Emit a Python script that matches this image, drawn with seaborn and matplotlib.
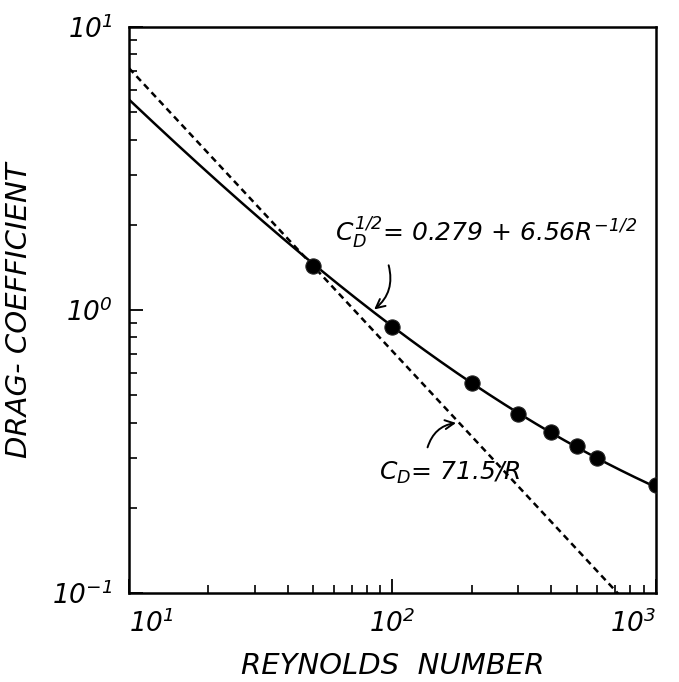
import numpy as np
import pandas as pd
import matplotlib
matplotlib.use("Agg")
import matplotlib.pyplot as plt
import seaborn as sns

# ---- data ----
reynolds_points = [50, 100, 200, 300, 400, 500, 600, 1000]
cd_points = [1.43, 0.87, 0.55, 0.43, 0.37, 0.33, 0.30, 0.24]

# fitted curve coefficients (as printed on the chart)
fit_a = 0.279
fit_b = 6.56
stokes_k = 71.5

x_ticks = [10, 100, 1000]
x_ticklabels = [r"$10^1$", r"$10^2$", r"$10^3$"]
y_ticks = [0.1, 1, 10]
y_ticklabels = [r"$10^{-1}$", r"$10^0$", r"$10^1$"]

sns.set_theme(style="white")
plt.rcParams["font.family"] = ["DejaVu Sans"]
plt.rcParams["font.style"] = "italic"
plt.rcParams["mathtext.fontset"] = "custom"
plt.rcParams["mathtext.rm"] = "DejaVu Sans:italic"
plt.rcParams["mathtext.it"] = "DejaVu Sans:italic"
plt.rcParams["mathtext.bf"] = "DejaVu Sans:italic"

fig = plt.figure(figsize=(6.79, 6.82), dpi=100)
ax = fig.add_axes([0.190, 0.1305, 0.776, 0.830])

r_grid = np.logspace(1, 3, 300)
fit_df = pd.DataFrame({"R": r_grid, "CD": (fit_a + fit_b / np.sqrt(r_grid)) ** 2})
stokes_df = pd.DataFrame({"R": r_grid, "CD": stokes_k / r_grid})
pts_df = pd.DataFrame({"R": reynolds_points, "CD": cd_points})

sns.lineplot(data=fit_df, x="R", y="CD", ax=ax, color="black", lw=1.8)
sns.lineplot(data=stokes_df, x="R", y="CD", ax=ax, color="black", lw=1.8,
             dashes=False)
ax.lines[-1].set_dashes((2.6, 1.8))
sns.scatterplot(data=pts_df, x="R", y="CD", ax=ax, color="black", s=120,
                edgecolor="#222222", linewidth=0.8, zorder=5)

ax.set_xscale("log")
ax.set_yscale("log")
ax.set_xlim(10, 1000)
ax.set_ylim(0.1, 10)

ax.set_xticks(x_ticks)
ax.set_xticklabels(x_ticklabels, fontsize=19)
ax.set_yticks(y_ticks)
ax.set_yticklabels(y_ticklabels, fontsize=19)
xl = ax.get_xticklabels()
xl[0].set_horizontalalignment("left")
xl[-1].set_horizontalalignment("right")

ax.tick_params(axis="both", which="major", direction="in", length=10, width=1.3,
               pad=12, top=False, right=False, bottom=True, left=True, colors="black")
ax.tick_params(axis="both", which="minor", direction="in", length=6, width=1.2,
               top=False, right=False, bottom=True, left=True, colors="black")
for s in ax.spines.values():
    s.set_linewidth(1.8)
    s.set_color("black")

ax.set_xlabel("REYNOLDS  NUMBER", fontsize=21, labelpad=10, color="black")
ax.set_ylabel("DRAG- COEFFICIENT", fontsize=21, labelpad=14, color="black")

ax.text(60.5, 1.74, r"$C_D^{1/2}$= 0.279 + 6.56$R^{-1/2}$", fontsize=18,
        ha="left", va="baseline", color="black")
ax.annotate("", xy=(83.6, 0.99), xytext=(96.1, 1.47),
            arrowprops=dict(arrowstyle="->", color="black", lw=1.4,
                            connectionstyle="arc3,rad=-0.35", mutation_scale=16))
ax.text(89, 0.251, r"$C_D$= 71.5/R", fontsize=18, ha="left", va="baseline",
        color="black")
ax.annotate("", xy=(178.6, 0.40), xytext=(135, 0.32),
            arrowprops=dict(arrowstyle="->", color="black", lw=1.4,
                            connectionstyle="arc3,rad=-0.35", mutation_scale=16))

fig.savefig("out.png", dpi=100, facecolor="white")
